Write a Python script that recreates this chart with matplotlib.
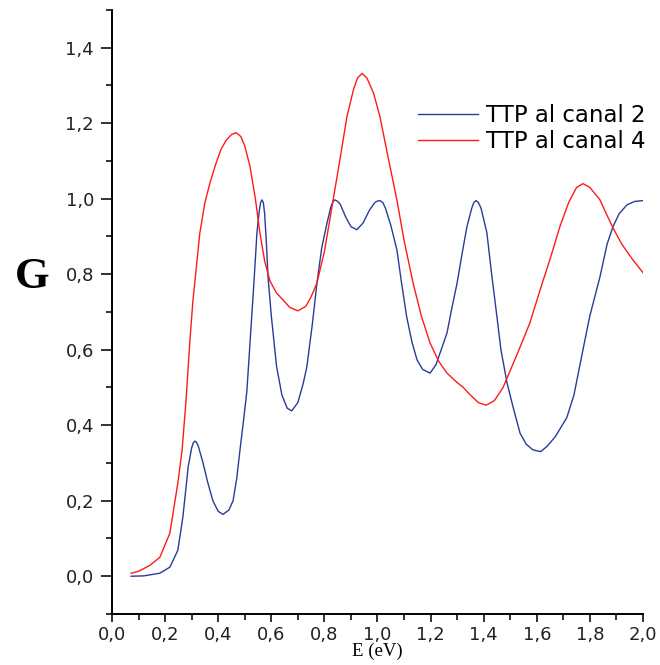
import matplotlib
matplotlib.use('Agg')
import matplotlib.pyplot as plt
import matplotlib.ticker as mtick

# TTP al canal 2
e_c2 = [0.072, 0.12, 0.18, 0.218, 0.248, 0.267, 0.287, 0.300, 0.306, 0.312,
        0.318, 0.325, 0.343, 0.36, 0.38, 0.40, 0.418, 0.44, 0.456, 0.47,
        0.482, 0.495, 0.508, 0.52, 0.533, 0.546, 0.555, 0.56, 0.565, 0.57,
        0.575, 0.581, 0.588, 0.60, 0.62, 0.64, 0.66, 0.677, 0.70, 0.72,
        0.734, 0.755, 0.772, 0.79, 0.81, 0.825, 0.833, 0.84, 0.85, 0.86,
        0.88, 0.90, 0.922, 0.945, 0.97, 0.99, 1.0, 1.009, 1.02, 1.03,
        1.05, 1.073, 1.09, 1.11, 1.13, 1.149, 1.17, 1.198, 1.22, 1.24,
        1.262, 1.28, 1.30, 1.32, 1.337, 1.355, 1.363, 1.371, 1.38, 1.39,
        1.412, 1.43, 1.45, 1.465, 1.488, 1.51, 1.537, 1.56, 1.585, 1.615,
        1.64, 1.67, 1.713, 1.74, 1.774, 1.80, 1.838, 1.865, 1.887, 1.91,
        1.94, 1.97, 2.0]
g_c2 = [0.000, 0.001, 0.008, 0.024, 0.069, 0.157, 0.29, 0.34, 0.353, 0.358,
        0.355, 0.345, 0.30, 0.25, 0.20, 0.172, 0.164, 0.175, 0.20, 0.26,
        0.334, 0.41, 0.49, 0.62, 0.76, 0.91, 0.97, 0.99, 0.997, 0.99,
        0.96, 0.89, 0.79, 0.69, 0.555, 0.48, 0.445, 0.438, 0.46, 0.51,
        0.555, 0.67, 0.777, 0.87, 0.936, 0.98, 0.993, 0.997, 0.993, 0.985,
        0.952, 0.926, 0.918, 0.935, 0.97, 0.99, 0.994, 0.995, 0.99, 0.975,
        0.93, 0.865, 0.78, 0.687, 0.62, 0.573, 0.548, 0.538, 0.56, 0.60,
        0.645, 0.71, 0.777, 0.86, 0.926, 0.975, 0.99, 0.995, 0.99, 0.975,
        0.91, 0.80, 0.687, 0.60, 0.512, 0.45, 0.379, 0.35, 0.335, 0.330,
        0.345, 0.37, 0.42, 0.48, 0.60, 0.69, 0.793, 0.88, 0.926, 0.96,
        0.984, 0.993, 0.995]

# TTP al canal 4
e_c4 = [0.072, 0.10, 0.143, 0.18, 0.218, 0.248, 0.264, 0.279, 0.293, 0.305,
        0.318, 0.331, 0.35, 0.369, 0.39, 0.41, 0.43, 0.45, 0.467, 0.485,
        0.50, 0.52, 0.54, 0.557, 0.575, 0.595, 0.62, 0.644, 0.67, 0.70,
        0.73, 0.75, 0.772, 0.80, 0.833, 0.86, 0.885, 0.91, 0.925, 0.942,
        0.96, 0.985, 1.009, 1.04, 1.073, 1.10, 1.134, 1.165, 1.198, 1.23,
        1.262, 1.30, 1.322, 1.35, 1.38, 1.409, 1.44, 1.473, 1.50, 1.53,
        1.574, 1.62, 1.65, 1.687, 1.72, 1.75, 1.774, 1.80, 1.838, 1.862,
        1.887, 1.92, 1.96, 2.0]
g_c4 = [0.008, 0.013, 0.029, 0.05, 0.114, 0.247, 0.334, 0.467, 0.62, 0.732,
        0.82, 0.91, 0.99, 1.042, 1.09, 1.13, 1.155, 1.17, 1.175, 1.165,
        1.14, 1.085, 1.00, 0.91, 0.835, 0.782, 0.75, 0.732, 0.712, 0.703,
        0.715, 0.74, 0.777, 0.86, 0.997, 1.11, 1.218, 1.29, 1.32, 1.332,
        1.32, 1.28, 1.218, 1.11, 0.997, 0.89, 0.777, 0.69, 0.618, 0.57,
        0.538, 0.513, 0.501, 0.48, 0.46, 0.453, 0.465, 0.50, 0.545, 0.595,
        0.671, 0.775, 0.84, 0.926, 0.99, 1.03, 1.04, 1.03, 0.997, 0.96,
        0.923, 0.88, 0.84, 0.804]

plt.rcParams['font.family'] = ['DejaVu Sans']

fig = plt.figure(figsize=(6.6, 6.65), dpi=100)
ax = fig.add_axes([0.1697, 0.0767, 0.8045, 0.9083])

ax.plot(e_c2, g_c2, '-', color='#2b3a98', lw=1.0, label='TTP al canal 2')
ax.plot(e_c4, g_c4, '-', color='#ff1a1a', lw=1.0, label='TTP al canal 4')

ax.set_xlim(0, 2.0)
ax.set_ylim(-0.1, 1.5)
ax.spines['top'].set_visible(False)
ax.spines['right'].set_visible(False)
ax.spines['left'].set_linewidth(1.4)
ax.spines['bottom'].set_linewidth(1.4)

ax.xaxis.set_major_locator(mtick.MultipleLocator(0.2))
ax.xaxis.set_minor_locator(mtick.MultipleLocator(0.1))
ax.yaxis.set_major_locator(mtick.FixedLocator([0.0, 0.2, 0.4, 0.6, 0.8, 1.0, 1.2, 1.4]))
ax.yaxis.set_minor_locator(mtick.FixedLocator([-0.1, 0.1, 0.3, 0.5, 0.7, 0.9, 1.1, 1.3, 1.5]))
comma = mtick.FuncFormatter(lambda v, p: ('%.1f' % v).replace('.', ','))
ax.xaxis.set_major_formatter(comma)
ax.yaxis.set_major_formatter(comma)
ax.tick_params(which='major', direction='out', length=6, width=1.3,
               labelsize=13, colors='#222222', pad=3)
ax.tick_params(axis='y', which='major', length=8, pad=5)
ax.tick_params(which='minor', direction='out', length=4, width=1.3, colors='#222222')

ax.set_xlabel('E (eV)', family='Liberation Serif', fontsize=13.5, labelpad=-1)
ax.set_ylabel('G', family='Liberation Serif', fontsize=32, fontweight='bold',
              rotation=0, va='center', ha='center')
ax.yaxis.set_label_coords(-0.151, 0.558)

ax.legend(loc='upper left', bbox_to_anchor=(0.538, 0.878), frameon=False,
          fontsize=16.5, handlelength=2.6, handletextpad=0.35, labelspacing=0.12)

plt.savefig('out.png', dpi=100)
plt.close()
